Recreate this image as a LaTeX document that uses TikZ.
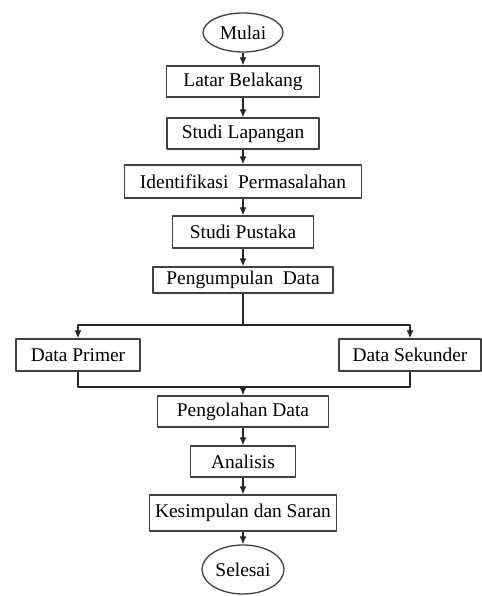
\documentclass[tikz,border=0pt]{standalone}
\usepackage{fontspec}
\setmainfont{Liberation Serif}
\usetikzlibrary{shapes.geometric,arrows.meta}
\tikzset{
  stepbox/.style={draw=black!75, rectangle, inner sep=0pt, minimum height=31bp,
    font=\fontsize{19.5}{22}\selectfont},
  terminal/.style={draw=black!75, ellipse, inner sep=0pt,
    font=\fontsize{19.5}{22}\selectfont},
  flow/.style={->, draw=black!85}
}
\begin{document}
\begin{tikzpicture}[>={Latex[length=8bp,width=7bp]},line join=bevel,line width=1.3bp]
  \useasboundingbox (0bp,0bp) rectangle (482bp,596bp);
%%
  % Node: mulai
  \node[terminal, minimum width=80bp, minimum height=39bp] (mulai) at (243bp,563.5bp) {Mulai};
  % Node: latar
  \node[stepbox, minimum width=153bp] (latar) at (243bp,514.5bp) {Latar Belakang};
  % Node: lapangan
  \node[stepbox, minimum width=152bp] (lapangan) at (243bp,462.5bp) {Studi Lapangan};
  % Node: identifikasi
  \node[stepbox, minimum width=237bp, minimum height=33bp] (identifikasi) at (243bp,414.5bp) {Identifikasi\ \ Permasalahan};
  % Node: pustaka
  \node[stepbox, minimum width=141bp, minimum height=32bp] (pustaka) at (243bp,364bp) {Studi Pustaka};
  % Node: pengumpulan
  \node[stepbox, minimum width=180bp, minimum height=26bp] (pengumpulan) at (243bp,316bp) {Pengumpulan\ \ Data};
  % Node: primer
  \node[stepbox, minimum width=124bp, minimum height=32bp] (primer) at (78bp,241bp) {Data Primer};
  % Node: sekunder
  \node[stepbox, minimum width=142bp, minimum height=32bp] (sekunder) at (410bp,241bp) {Data Sekunder};
  % Node: pengolahan
  \node[stepbox, minimum width=171bp] (pengolahan) at (243bp,184.5bp) {Pengolahan Data};
  % Node: analisis
  \node[stepbox, minimum width=105bp] (analisis) at (243bp,134.5bp) {Analisis};
  % Node: kesimpulan
  \node[stepbox, minimum width=187bp, minimum height=36bp] (kesimpulan) at (243bp,83bp) {Kesimpulan dan Saran};
  % Node: selesai
  \node[terminal, minimum width=82bp, minimum height=49bp] (selesai) at (243bp,26.5bp) {Selesai};
  % split and merge points
  \coordinate (split) at (243bp,271bp);
  \coordinate (merge) at (243bp,209bp);
%%
  % Edge: mulai -> latar
  \draw [flow] (mulai) -- (latar);
  % Edge: latar -> lapangan
  \draw [flow] (latar) -- (lapangan);
  % Edge: lapangan -> identifikasi
  \draw [flow] (lapangan) -- (identifikasi);
  % Edge: identifikasi -> pustaka
  \draw [flow] (identifikasi) -- (pustaka);
  % Edge: pustaka -> pengumpulan
  \draw [flow] (pustaka) -- (pengumpulan);
  % Edge: pengumpulan -> primer, sekunder
  \draw [draw=black!85] (pengumpulan) -- (split);
  \draw [flow] (split) -| (primer);
  \draw [flow] (split) -| (sekunder);
  % Edge: primer, sekunder -> pengolahan
  \draw [draw=black!85] (primer) |- (merge);
  \draw [draw=black!85] (sekunder) |- (merge);
  \draw [flow] (merge) -- (pengolahan);
  % Edge: pengolahan -> analisis
  \draw [flow] (pengolahan) -- (analisis);
  % Edge: analisis -> kesimpulan
  \draw [flow] (analisis) -- (kesimpulan);
  % Edge: kesimpulan -> selesai
  \draw [flow] (kesimpulan) -- (selesai);
%
\end{tikzpicture}
\end{document}
